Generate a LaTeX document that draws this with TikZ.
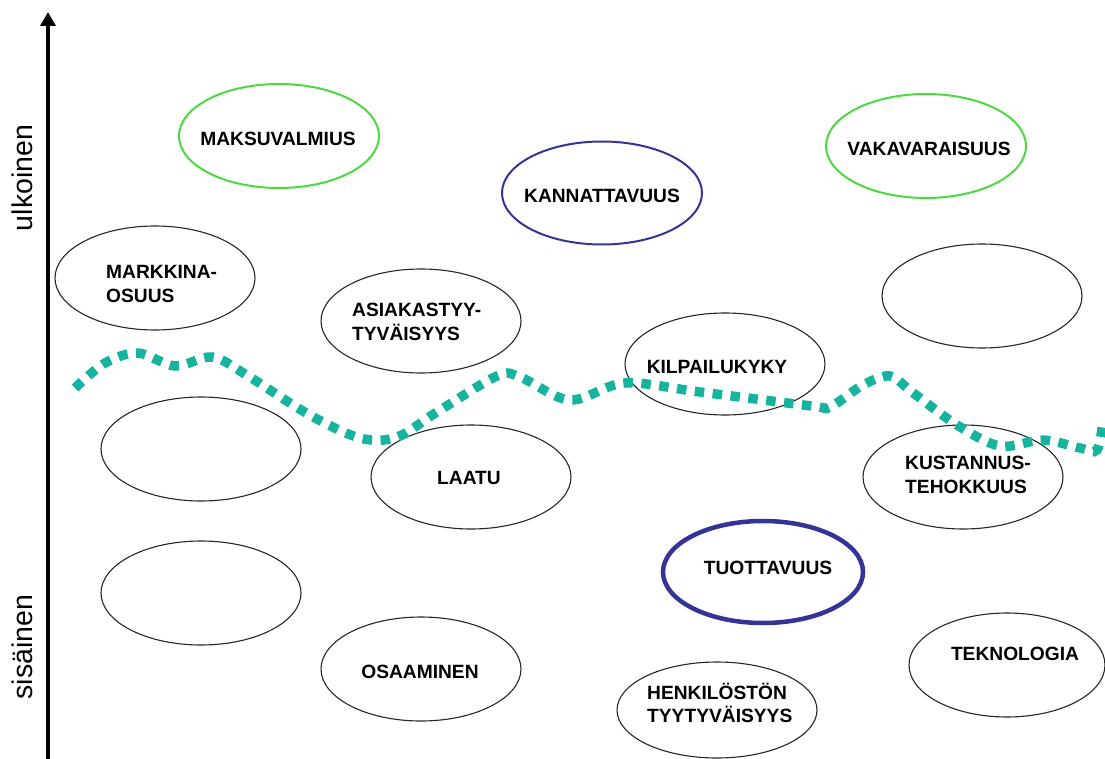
\documentclass[tikz,border=0pt]{standalone}
\usepackage{fontspec}
\setmainfont{Liberation Sans}
\usetikzlibrary{shapes.geometric,arrows.meta}
\definecolor{gr}{RGB}{76,217,64}
\definecolor{bl}{RGB}{52,52,150}
\definecolor{tl}{RGB}{22,180,158}
\tikzset{
  ell/.style={ellipse, draw=black!85, line width=1.1pt, minimum width=200pt, minimum height=104pt, inner sep=0pt},
  gell/.style={ell, draw=gr, line width=2pt},
  bell/.style={ell, draw=bl, line width=2pt},
  tbell/.style={ell, draw=bl, line width=4.5pt},
  lbl/.style={font=\fontsize{19.2}{23.5}\selectfont\bfseries, inner sep=0pt},
  lbll/.style={lbl, align=left, anchor=west},
  axlbl/.style={font=\fontsize{28.5}{30}\selectfont, rotate=90, inner sep=0pt},
  wave/.style={draw=tl, line width=9.5pt, dash pattern=on 9.5pt off 8.5pt}
}
\begin{document}
\begin{tikzpicture}[x=1pt,y=-1pt]
\useasboundingbox (0,0) rectangle (1105,759);
% axis
\coordinate (axb) at (48,762);
\coordinate (axt) at (48,12);
\draw[line width=4pt, -{Triangle[length=14pt,width=15pt]}] (axb) -- (axt);
\node[axlbl] (ulk) at (22,178) {ulkoinen};
\node[axlbl] (sis) at (22,647) {sisäinen};
% ellipses
\node[gell] (e1) at (279,136) {};
\node[bell, minimum height=103pt] (e2) at (602,193) {};
\node[gell] (e3) at (926,146) {};
\node[ell] (e4) at (155,278) {};
\node[ell] (e5) at (421,321) {};
\node[ell] (e6) at (982,296) {};
\node[ell, minimum height=102pt] (e7) at (725,364) {};
\node[ell] (e8) at (201,449) {};
\node[ell] (e9) at (471,477) {};
\node[ell] (e10) at (963,477) {};
\node[tbell, minimum height=102pt] (e11) at (763,572) {};
\node[ell] (e12) at (201,593) {};
\node[ell] (e13) at (421,669) {};
\node[ell, minimum height=96pt] (e14) at (717,710) {};
\node[ell, minimum width=196pt] (e15) at (1007,665) {};
% labels
\node[lbl] (t1) at (278,139) {MAKSUVALMIUS};
\node[lbl] (t2) at (602,196) {KANNATTAVUUS};
\node[lbl] (t3) at (929,149) {VAKAVARAISUUS};
\node[lbll] (t4) at (106,284) {MARKKINA-\\OSUUS};
\node[lbll] (t5) at (352,322) {ASIAKASTYY-\\TYVÄISYYS};
\node[lbl] (t7) at (717,367) {KILPAILUKYKY};
\node[lbl] (t9) at (469,478) {LAATU};
\node[lbll] (t10) at (905,475) {KUSTANNUS-\\TEHOKKUUS};
\node[lbl] (t11) at (768,568) {TUOTTAVUUS};
\node[lbl] (t13) at (420,672) {OSAAMINEN};
\node[lbll] (t14) at (647,703) {HENKILÖSTÖN\\TYYTYVÄISYYS};
\node[lbl] (t15) at (1015,654) {TEKNOLOGIA};
% wave
\draw[wave] plot[smooth, tension=0.55] coordinates {(75,388) (105,363) (138,353) (175,366) (212,357) (245,374) (308,414) (360,438) (397,437) (437,412) (497,376) (520,377) (570,400) (625,383) (700,392) (812,406) (830,407) (863,385) (890,376) (912,392) (957,425) (1000,446) (1043,440) (1080,448) (1097,450) (1103,420)};
\end{tikzpicture}
\end{document}
